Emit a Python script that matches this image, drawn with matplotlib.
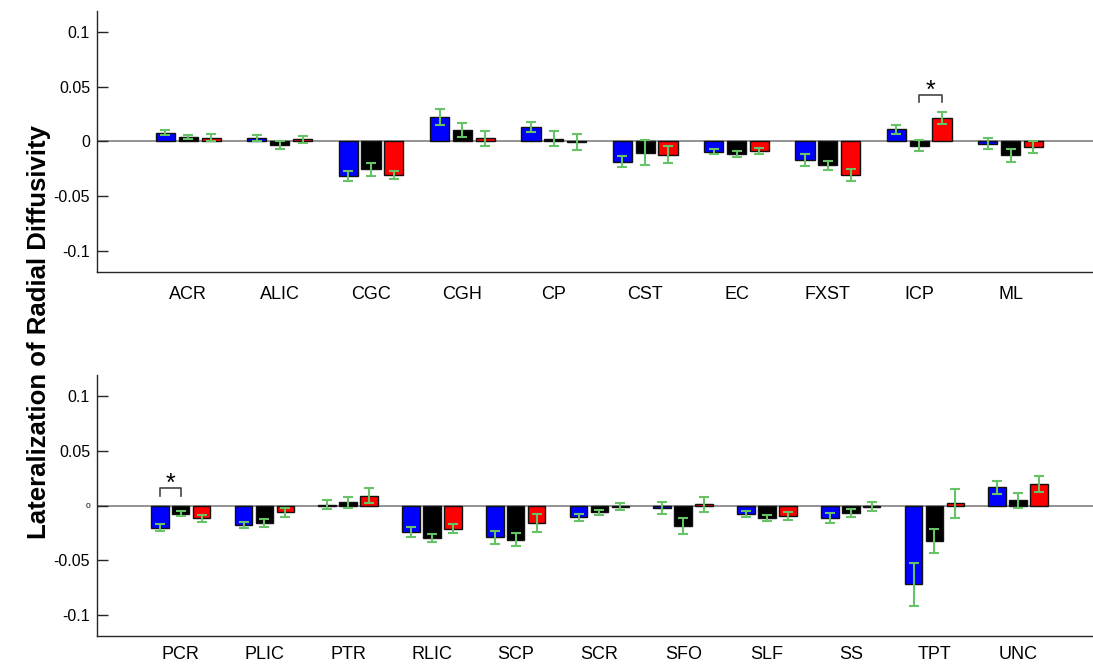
import matplotlib
matplotlib.use('Agg')
import matplotlib.pyplot as plt
import numpy as np

plt.rcParams.update({
    'font.family': ['Liberation Sans', 'DejaVu Sans'],
    'axes.linewidth': 1.0,
})

# group labels and per-group means / error half-widths (blue, black, red)
tracts_top = ['ACR', 'ALIC', 'CGC', 'CGH', 'CP', 'CST', 'EC', 'FXST', 'ICP', 'ML']
blue_top = [0.008, 0.003, -0.0317, 0.0222, 0.0133, -0.0185, -0.0093, -0.0168, 0.0112, -0.0022]
black_top = [0.0044, -0.0035, -0.0255, 0.0108, 0.0025, -0.0103, -0.0114, -0.0218, -0.004, -0.0127]
red_top = [0.0035, 0.002, -0.0307, 0.003, -0.0005, -0.012, -0.009, -0.0305, 0.0213, -0.0053]
blue_top_err = [0.0022, 0.003, 0.0048, 0.0072, 0.0046, 0.0053, 0.0023, 0.0057, 0.0043, 0.005]
black_top_err = [0.002, 0.0035, 0.0057, 0.0063, 0.0067, 0.0115, 0.003, 0.004, 0.005, 0.006]
red_top_err = [0.003, 0.003, 0.004, 0.007, 0.0073, 0.008, 0.0026, 0.0053, 0.0057, 0.0055]

tracts_bot = ['PCR', 'PLIC', 'PTR', 'RLIC', 'SCP', 'SCR', 'SFO', 'SLF', 'SS', 'TPT', 'UNC']
blue_bot = [-0.0204, -0.0179, 0.0008, -0.0243, -0.029, -0.0108, -0.002, -0.0078, -0.0115, -0.0723, 0.0167]
black_bot = [-0.0075, -0.016, 0.003, -0.0298, -0.0313, -0.0063, -0.0188, -0.0115, -0.0069, -0.0323, 0.005]
red_bot = [-0.0118, -0.0063, 0.009, -0.0213, -0.016, -0.001, 0.0012, -0.0093, -0.0011, 0.002, 0.0197]
blue_bot_err = [0.0034, 0.003, 0.004, 0.0046, 0.006, 0.003, 0.0055, 0.0025, 0.0043, 0.0197, 0.0058]
black_bot_err = [0.0025, 0.004, 0.005, 0.0037, 0.0063, 0.0025, 0.0069, 0.003, 0.0037, 0.0112, 0.0069]
red_bot_err = [0.0035, 0.0043, 0.0067, 0.0041, 0.0083, 0.0034, 0.0069, 0.0037, 0.0041, 0.0134, 0.0076]

# significance brackets: (group index, first bar, second bar)
sig_top = [(8, 1, 2)]
sig_bot = [(0, 0, 1)]

BAR_COLORS = ['#0000FF', '#000000', '#FF0000']
ERR_COLOR = '#66C466'
OFFSET = 0.25
WIDTH = 0.21


def draw_panel(ax, labels, series, errs, sigs, label_pad):
    x = np.arange(1, len(labels) + 1)
    ax.axhline(0, color='#808080', linewidth=1.2, zorder=1)
    for k, (vals, err) in enumerate(zip(series, errs)):
        xs = x + (k - 1) * OFFSET
        ax.bar(xs, vals, width=WIDTH, color=BAR_COLORS[k], edgecolor='#111111',
               linewidth=1.0, zorder=2)
        ax.errorbar(xs, vals, yerr=err, fmt='none', ecolor=ERR_COLOR,
                    elinewidth=1.5, capsize=3.5, capthick=1.5, zorder=3)
    for g, a, b in sigs:
        x1 = x[g] + (a - 1) * OFFSET
        x2 = x[g] + (b - 1) * OFFSET
        top = max(series[a][g] + errs[a][g], series[b][g] + errs[b][g], 0) + 0.016
        ax.plot([x1, x1, x2, x2], [top - 0.007, top, top, top - 0.007],
                color='#444444', linewidth=1.2, zorder=3)
        ax.text((x1 + x2) / 2, top + 0.0035, '*', ha='center', va='center',
                fontsize=18, color='black')
    ax.set_xlim(0, len(labels) + 1)
    ax.set_ylim(-0.12, 0.12)
    ax.set_xticks(x)
    ax.set_xticklabels(labels, fontsize=13)
    ax.tick_params(axis='x', length=0, pad=label_pad)
    ax.set_yticks([-0.1, -0.05, 0, 0.05, 0.1])
    ax.set_yticklabels(['-0.1', '-0.05', '0', '0.05', '0.1'], fontsize=11.5)
    ax.tick_params(axis='y', direction='in', length=8, width=1.0, pad=5,
                   color='#262626')
    for s in ['top', 'right']:
        ax.spines[s].set_visible(False)
    for s in ['left', 'bottom']:
        ax.spines[s].set_color('#262626')


fig = plt.figure(figsize=(10.93, 6.64), dpi=100)
ax1 = fig.add_axes([0.0887, 0.5899, 0.9195, 0.394])
ax2 = fig.add_axes([0.0887, 0.0417, 0.9195, 0.394])

draw_panel(ax1, tracts_top, [blue_top, black_top, red_top],
           [blue_top_err, black_top_err, red_top_err], sig_top, 10)
draw_panel(ax2, tracts_bot, [blue_bot, black_bot, red_bot],
           [blue_bot_err, black_bot_err, red_bot_err], sig_bot, 7)

# the zero label on the lower panel is printed small
ax2.get_yticklabels()[2].set_fontsize(6)

fig.text(0.036, 0.50, 'Lateralization of Radial Diffusivity', rotation=90,
         ha='center', va='center', fontsize=18.5, fontweight='bold')

fig.savefig('out.png', dpi=100)
